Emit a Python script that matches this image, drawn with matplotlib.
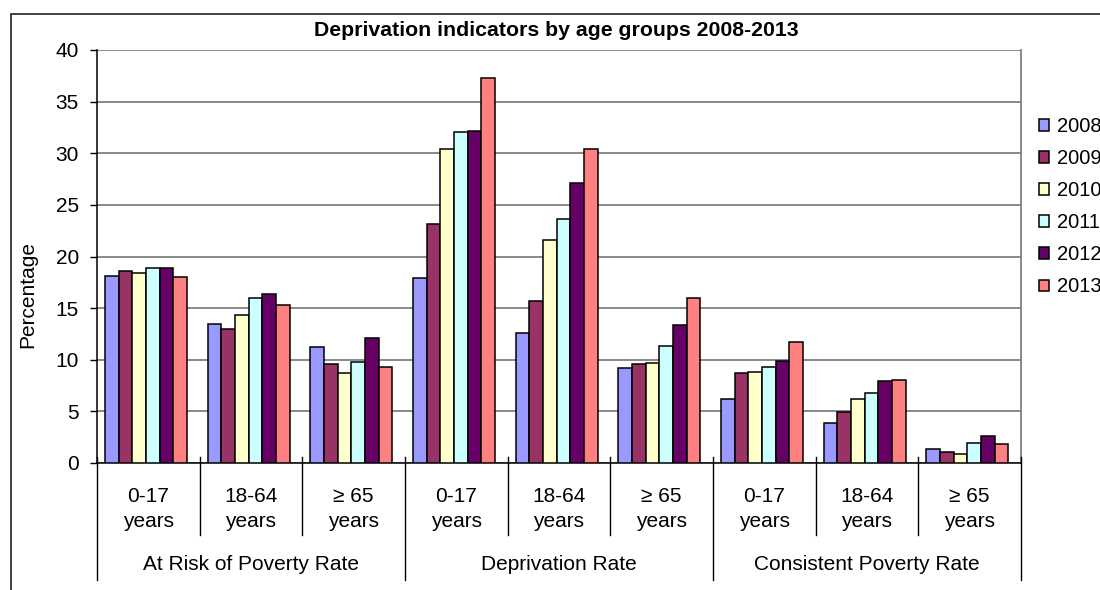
import matplotlib
matplotlib.use("Agg")
import matplotlib.pyplot as plt
from matplotlib.patches import Rectangle

plt.rcParams['font.family'] = ['Liberation Sans', 'DejaVu Sans']

# Data
indicators = ["At Risk of Poverty Rate", "Deprivation Rate", "Consistent Poverty Rate"]
age_groups = ["0-17\nyears", "18-64\nyears", "\u2265 65\nyears"]
years = ["2008", "2009", "2010", "2011", "2012", "2013"]
colors = ["#9999FF", "#993366", "#FFFFCC", "#CCFFFF", "#660066", "#FF8080"]

v2008 = [18.1, 13.5, 11.2, 17.9, 12.6, 9.2, 6.2, 3.9, 1.4]
v2009 = [18.6, 13.0, 9.6, 23.1, 15.7, 9.6, 8.7, 4.9, 1.1]
v2010 = [18.4, 14.3, 8.7, 30.4, 21.6, 9.7, 8.8, 6.2, 0.9]
v2011 = [18.9, 16.0, 9.8, 32.1, 23.6, 11.3, 9.3, 6.8, 1.9]
v2012 = [18.9, 16.4, 12.1, 32.2, 27.1, 13.4, 9.9, 7.9, 2.6]
v2013 = [18.0, 15.3, 9.3, 37.3, 30.4, 16.0, 11.7, 8.0, 1.8]
series = [v2008, v2009, v2010, v2011, v2012, v2013]

W, H = 1100, 590
fig = plt.figure(figsize=(W / 100, H / 100), dpi=100)

# outer chart frame
fig.patches.append(Rectangle((11 / W, -0.1), 1.2, 1 - 14 / H + 0.1,
                             transform=fig.transFigure, fill=False,
                             edgecolor="#222222", linewidth=1.2))

left, right, top, bottom = 97, 1021, 50, 463
ax = fig.add_axes([left / W, 1 - bottom / H, (right - left) / W, (bottom - top) / H])

n_cat = len(v2008)
bar_w = 0.133
shift = -0.022
for j, (vals, col, yr) in enumerate(zip(series, colors, years)):
    xs = [i + 0.5 + (j - 2.5) * bar_w + shift for i in range(n_cat)]
    ax.bar(xs, vals, width=bar_w, color=col, edgecolor="black",
           linewidth=1.1, label=yr, zorder=3)

ax.set_xlim(0, n_cat)
ax.set_ylim(0, 40)
ax.set_yticks(range(0, 41, 5))
ax.yaxis.grid(True, color="#808080", linewidth=1.3, zorder=0)
ax.tick_params(axis="y", direction="out", length=5, width=1, pad=8,
               labelsize=15, colors="black")
ax.set_xticks([])

ax.spines["top"].set_visible(False)
ax.spines["right"].set_color("#808080")
ax.spines["right"].set_linewidth(1.3)
ax.spines["left"].set_linewidth(1.1)
ax.spines["bottom"].set_linewidth(1.1)

ah = bottom - top


def yfrac(py):
    return -(py - bottom) / ah


tr = ax.get_xaxis_transform()
# category boundary ticks and separators
for i in range(n_cat + 1):
    long_sep = (i % 3 == 0)
    y_end = yfrac(580) if long_sep else yfrac(535)
    ax.plot([i, i], [yfrac(457), y_end], transform=tr, color="black",
            linewidth=1.0, clip_on=False, zorder=4)

for i in range(n_cat):
    ax.text(i + 0.5, yfrac(509), age_groups[i % 3], transform=tr,
            ha="center", va="center", fontsize=15, linespacing=1.42)
for k, name in enumerate(indicators):
    ax.text(3 * k + 1.5, yfrac(565), name, transform=tr,
            ha="center", va="center", fontsize=15)

fig.text(556 / W, 1 - 31 / H, "Deprivation indicators by age groups 2008-2013",
         ha="center", va="center", fontsize=15.3, fontweight="bold")
fig.text(28 / W, 1 - 294 / H, "Percentage", rotation=90,
         ha="center", va="center", fontsize=15)

fig.legend(loc="upper left", bbox_to_anchor=(1039 / W, 1 - 117 / H),
           frameon=False, fontsize=14.5, handlelength=0.5, handleheight=0.5,
           handletextpad=0.4, labelspacing=0.65, borderpad=0, borderaxespad=0)

fig.savefig("out.png", dpi=100)
